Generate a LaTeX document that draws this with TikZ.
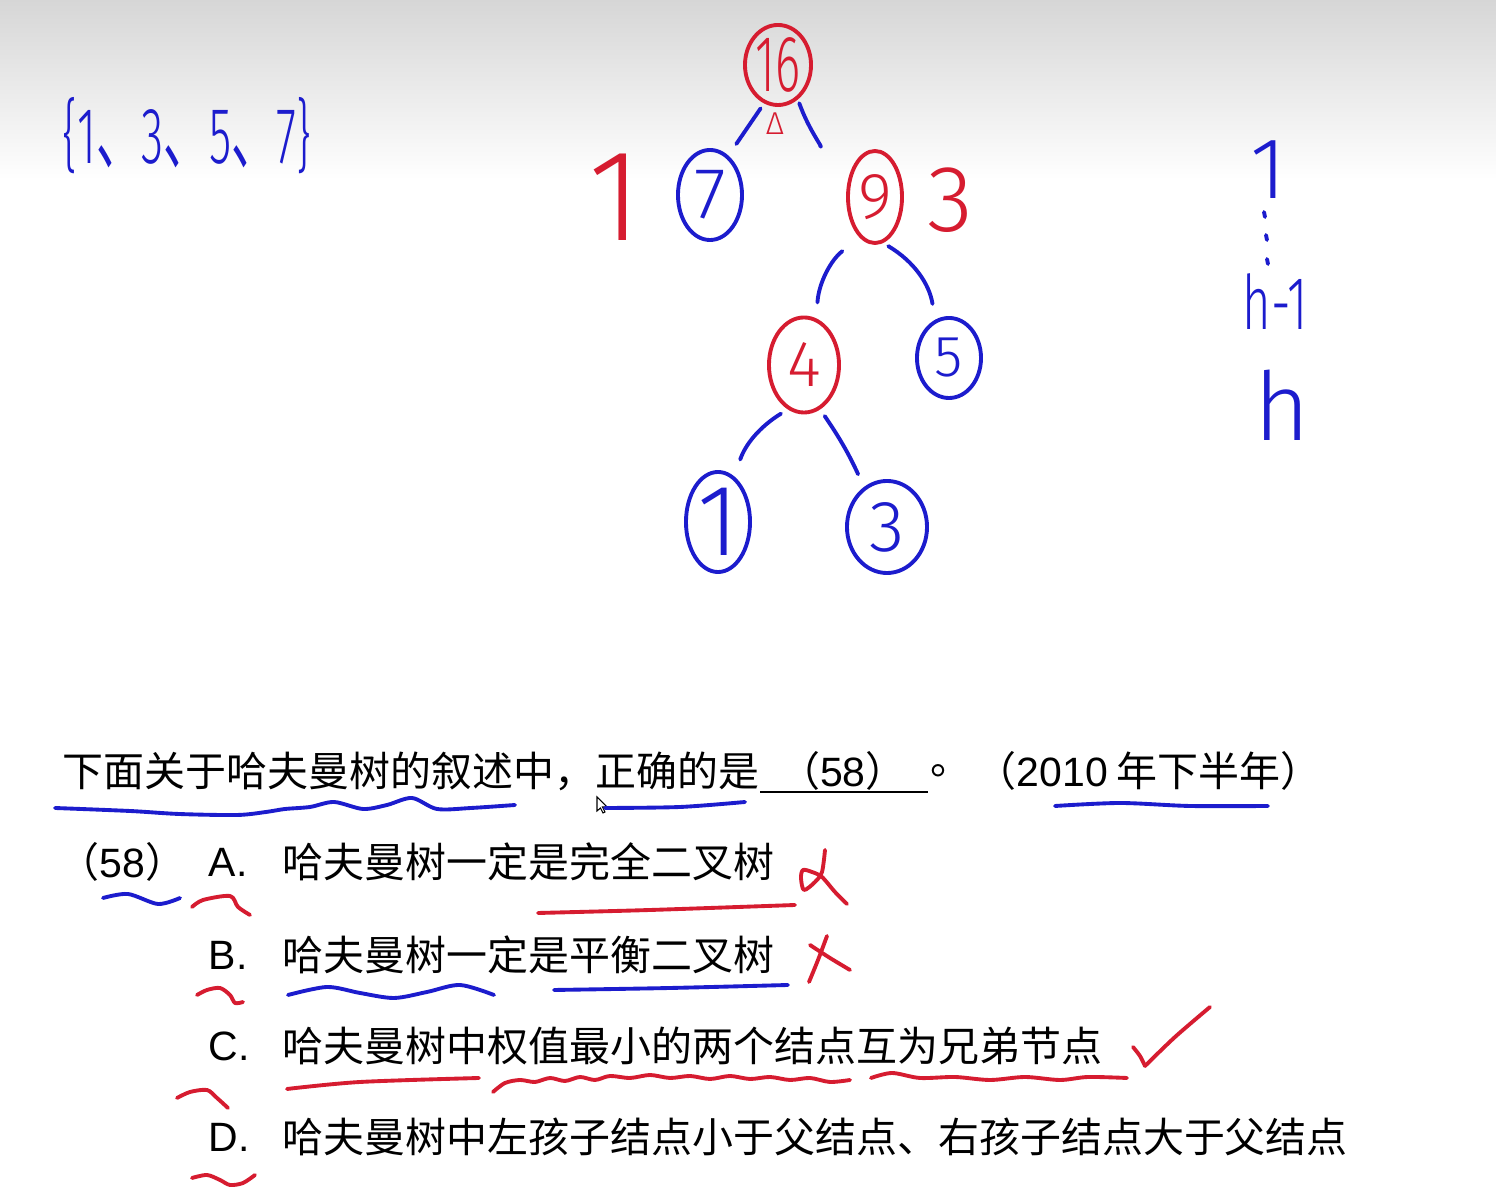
\documentclass[tikz,border=0pt]{standalone}
\usepackage{fontspec}
\usepackage{graphicx}
\setmainfont{Liberation Sans}
\newfontfamily\cjk{Noto Sans CJK SC}
\newfontfamily\lat{Liberation Sans}
\newfontfamily\hand{Fira Sans Light}
\usetikzlibrary{shapes.geometric}
\definecolor{penblue}{RGB}{28,28,205}
\definecolor{penred}{RGB}{214,28,48}
% 手写字
\newcommand{\shou}[2]{{\hand\fontsize{#1}{#1}\selectfont #2}}

\begin{document}
\begin{tikzpicture}[x=0.01cm, y=-0.01cm,
    pen/.style={line width=1.1pt, line cap=round, line join=round},
    quan/.style={draw, ellipse, pen, inner sep=0pt},
    bian/.style={pen, penblue},
    ti/.style={anchor=west, inner sep=0pt, font=\cjk\fontsize{11.65pt}{14pt}\selectfont}]
    \useasboundingbox (0,0) rectangle (1496,1198);
    % 背景
    \fill[white] (0,0) rectangle (1496,1198);
    \shade[top color=black!16, bottom color=white] (0,0) rectangle (1496,180);

    % 权值集合
    \node[penblue] (ji) at (187,136) {\shou{22.7pt}{\scalebox{0.57}[1]{\{1{\cjk 、}3{\cjk 、}5{\cjk 、}7\}}}};

    % 哈夫曼树
    \node[quan, penred, minimum width=0.66cm, minimum height=0.80cm] (n16) at (778,65) {\shou{22.7pt}{\scalebox{0.6}[1]{16}}};
    \node[quan, penblue, minimum width=0.64cm, minimum height=0.90cm] (n7) at (710,195) {\shou{20.6pt}{7}};
    \node[quan, penred, minimum width=0.54cm, minimum height=0.92cm] (n9) at (875,197) {\shou{18.5pt}{9}};
    \node[quan, penred, minimum width=0.70cm, minimum height=0.95cm] (n4) at (804,365) {\shou{18.5pt}{4}};
    \node[quan, penblue, minimum width=0.64cm, minimum height=0.80cm] (n5) at (949,358) {\shou{16.5pt}{5}};
    \node[quan, penblue, minimum width=0.64cm, minimum height=1.00cm] (n1) at (718,522) {\shou{28.8pt}{1}};
    \node[quan, penblue, minimum width=0.80cm, minimum height=0.92cm] (n3) at (887,527) {\shou{20.6pt}{3}};
    % 连接
    \draw[bian, shorten <=0.06cm, shorten >=0.14cm] (n16.250) -- (n7.65);
    \draw[bian, shorten <=0.04cm, shorten >=0.38cm] (n16.300) to[bend right=20] (n9.125);
    \draw[bian, shorten <=0.22cm, shorten >=0.16cm] (n9.250) to[bend right=25] (n4.75);
    \draw[bian, shorten <=0.06cm, shorten >=0.16cm] (n9.280) to[bend left=25] (n5.110);
    \draw[bian, shorten <=0.08cm, shorten >=0.18cm] (n4.250) to[bend right=20] (n1.70);
    \draw[bian, shorten <=0.08cm, shorten >=0.14cm] (n4.290) to[bend left=5] (n3.120);
    % 标注
    \node[penred] (jiao) at (775,124) {\shou{9pt}{Δ}};
    \node[penred] (ceng1) at (615,197) {\shou{37pt}{1}};
    \node[penred] (ceng3) at (950,200) {\shou{26.8pt}{3}};

    % 右侧层数
    \node[penblue] (d1) at (1268,170) {\shou{24.7pt}{1}};
    \draw[pen, penblue] (1264,212) -- (1265,217) (1266,235) -- (1267,240) (1267,259) -- (1268,264);
    \node[penblue] (dh1) at (1275,302) {\shou{21.4pt}{\scalebox{0.65}[1]{h-1}}};
    \node[penblue] (dh) at (1282,405) {\shou{27pt}{h}};

    % 题目
    \node[ti] (q1) at (62,771) {下面关于哈夫曼树的叙述中，正确的是};
    \coordinate (kongL) at (760,792);
    \coordinate (kongR) at (928,792);
    \draw[line width=0.6pt] (kongL) -- (kongR);
    \node[ti, anchor=center] (q58) at (843,771) {（{\lat 58}）};
    \node[ti] (qdot) at (930,771) {。};
    \node[ti] (qyear) at (975,771) {（{\lat 2010} 年下半年）};
    % 鼠标
    \draw[fill=white, line width=0.3pt] (597,797) -- (597,811) -- (600.5,808) -- (603,813) -- (605,812) -- (602.5,807) -- (607,807) -- cycle;

    % 选项
    \node[ti] (o58) at (58,862) {（{\lat 58}）};
    \foreach \k/\y/\t in {A/862/哈夫曼树一定是完全二叉树, B/955/哈夫曼树一定是平衡二叉树, C/1046/哈夫曼树中权值最小的两个结点互为兄弟节点, D/1137/哈夫曼树中左孩子结点小于父结点、右孩子结点大于父结点} {
        \node[ti] (xuan\k) at (208,\y) {{\lat \k.}};
        \node[ti] (wen\k) at (282,\y) {\t};
    }

    % 第一行划线
    \draw[pen, penblue] plot[smooth] coordinates {(55,808) (130,811) (179,814) (237,815) (266,812) (285,809) (310,807) (334,802) (363,809) (387,805) (412,798) (437,809) (471,808) (515,805)};
    \draw[pen, penblue] plot[smooth] coordinates {(605,808) (680,807) (745,802)};
    \draw[pen, penblue] plot[smooth] coordinates {(1055,806) (1120,803) (1190,806) (1268,806)};
    % A
    \draw[pen, penblue] plot[smooth] coordinates {(103,898) (128,894) (158,904) (180,898)};
    \draw[pen, penred] plot[smooth] coordinates {(192,907) (203,900) (230,896) (238,907) (250,915)};
    \draw[pen, penred] plot[smooth] coordinates {(538,913) (650,910) (795,905)};
    \draw[pen, penred] plot[smooth] coordinates {(825,850) (822,872) (815,882) (804,890) (801,878) (803,870) (812,872) (822,877) (835,892) (847,904)};
    % B
    \draw[pen, penred] plot[smooth] coordinates {(197,995) (207,990) (220,988) (230,995) (235,1003) (243,1002)};
    \draw[pen, penblue] plot[smooth] coordinates {(288,995) (327,987) (360,993) (394,998) (427,992) (460,985) (494,995)};
    \draw[pen, penblue] plot[smooth] coordinates {(554,990) (670,988) (788,985)};
    \draw[pen, penred] plot[smooth] coordinates {(827,936) (818,960) (809,982)};
    \draw[pen, penred] plot[smooth] coordinates {(810,945) (830,958) (850,970)};
    % C
    \draw[pen, penred] plot[smooth] coordinates {(177,1098) (190,1092) (207,1090) (217,1098) (228,1108)};
    \draw[pen, penred] plot[smooth] coordinates {(287,1089) (360,1082) (479,1078)};
    \draw[pen, penred] plot[smooth] coordinates {(493,1092) (505,1083) (520,1080) (535,1082) (550,1078) (565,1081) (580,1077) (595,1080) (610,1076) (630,1078) (650,1075) (670,1078) (690,1076) (710,1079) (730,1076) (750,1079) (770,1077) (790,1080) (810,1078) (830,1082) (850,1080)};
    \draw[pen, penred] plot[smooth] coordinates {(871,1078) (892,1073) (920,1078) (955,1077) (990,1080) (1025,1077) (1060,1080) (1088,1077) (1127,1078)};
    \draw[pen, penred] plot[smooth] coordinates {(1133,1047) (1140,1056) (1145,1066)};
    \draw[pen, penred] plot[smooth] coordinates {(1145,1066) (1175,1037) (1210,1007)};
    % D
    \draw[pen, penred] plot[smooth] coordinates {(192,1178) (207,1175) (220,1180) (230,1185) (243,1183) (255,1175)};
\end{tikzpicture}
\end{document}
